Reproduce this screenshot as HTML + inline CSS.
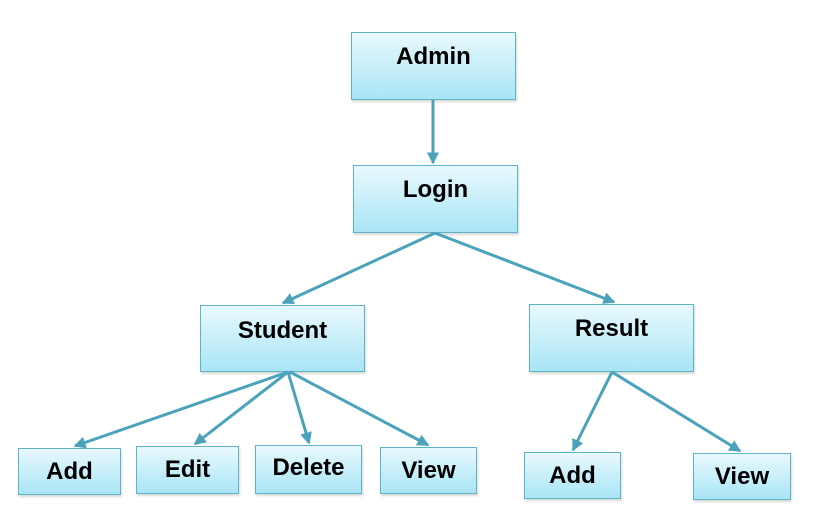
<!DOCTYPE html>
<html><head><style>
body{margin:0;width:820px;height:529px;background:#fff;position:relative;overflow:hidden;font-family:"Liberation Sans",sans-serif}
.b{position:absolute;box-sizing:border-box;border:1.5px solid #5fb3c9;background:linear-gradient(#e8f9fd,#a9e5f6);display:flex;align-items:center;justify-content:center;font-weight:bold;font-size:24px;color:#000;box-shadow:1px 2px 2px rgba(0,0,0,0.15)}
svg{position:absolute;left:0;top:0}
</style></head><body>
<div class="b" style="left:351px;top:32px;width:165px;height:68px;padding-bottom:18px">Admin</div>
<div class="b" style="left:353px;top:165px;width:165px;height:68px;padding-bottom:18px">Login</div>
<div class="b" style="left:200px;top:305px;width:165px;height:67px;padding-bottom:16px">Student</div>
<div class="b" style="left:529px;top:304px;width:165px;height:68px;padding-bottom:18px">Result</div>
<div class="b" style="left:18px;top:448px;width:103px;height:47px">Add</div>
<div class="b" style="left:136px;top:446px;width:103px;height:48px">Edit</div>
<div class="b" style="left:255px;top:445px;width:107px;height:49px;padding-bottom:4px">Delete</div>
<div class="b" style="left:380px;top:447px;width:97px;height:47px">View</div>
<div class="b" style="left:524px;top:452px;width:97px;height:47px">Add</div>
<div class="b" style="left:693px;top:453px;width:98px;height:47px">View</div>
<svg width="820" height="529">
<defs><marker id="a" markerWidth="4" markerHeight="4" refX="3.5" refY="2" orient="auto" markerUnits="strokeWidth"><path d="M0,0L4,2L0,4z" fill="#4aa3bb"/></marker></defs>
<g stroke="#4aa3bb" stroke-width="3" marker-end="url(#a)">
<line x1="433" y1="100" x2="433" y2="163"/>
<line x1="435" y1="233" x2="283" y2="303"/>
<line x1="435" y1="233" x2="614" y2="302"/>
<line x1="288" y1="372" x2="75" y2="446"/>
<line x1="288" y1="372" x2="195" y2="444"/>
<line x1="288" y1="372" x2="309" y2="443"/>
<line x1="290" y1="372" x2="428" y2="445"/>
<line x1="612" y1="372" x2="573" y2="450"/>
<line x1="612" y1="372" x2="740" y2="451"/>
</g></svg>
</body></html>
